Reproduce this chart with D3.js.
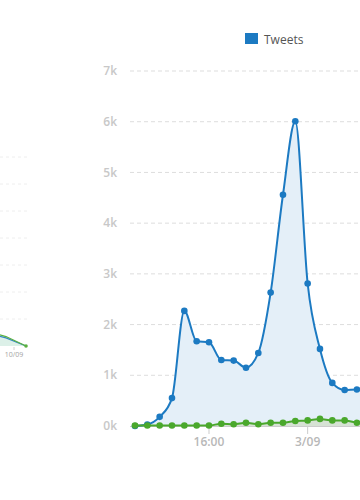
<!DOCTYPE html>
<html>
<head>
<meta charset="utf-8">
<script src="https://cdn.jsdelivr.net/npm/d3@7"></script>
<style>
  html, body { margin: 0; padding: 0; background: #fff; }
  svg { display: block; font-family: "Open Sans", "DejaVu Sans", sans-serif; }
</style>
</head>
<body>
<div id="chart"></div>
<script>
// ---- data ----
const categories = [
  "2/09 10:00","2/09 11:00","2/09 12:00","2/09 13:00","2/09 14:00","2/09 15:00",
  "2/09 16:00","2/09 17:00","2/09 18:00","2/09 19:00","2/09 20:00","2/09 21:00",
  "2/09 22:00","2/09 23:00","3/09 00:00","3/09 01:00","3/09 02:00","3/09 03:00",
  "3/09 04:00","3/09 05:00"
];
const tweets = [0, 30, 180, 550, 2270, 1670, 1650, 1300, 1290, 1150, 1440, 2630, 4560, 6010, 2810, 1520, 850, 710, 720, 720];
const retweets = [10, 10, 10, 10, 10, 10, 10, 45, 35, 65, 35, 65, 65, 100, 110, 140, 110, 110, 65, 60];
const yTicks = [0, 1000, 2000, 3000, 4000, 5000, 6000, 7000];
const yTickLabels = ["0k", "1k", "2k", "3k", "4k", "5k", "6k", "7k"];
const xTickCats = ["2/09 16:00", "3/09 00:00"];
const xTickLabels = ["16:00", "3/09"];
const legendLabels = ["Tweets"];

// faint background (ghost) chart on the left edge
const ghostCats = ["a", "b", "c"];
const ghostBlue = [0.48, 0.3, 0.0];
const ghostGreen = [0.55, 0.35, 0.0];
const ghostTicks = [0, 1, 2, 3, 4, 5, 6, 7];
const ghostXTick = "10/09";

const W = 360, H = 500;
const blue = "#1c7ac2", green = "#4aa82c";

const svg = d3.select("#chart").append("svg").attr("width", W).attr("height", H);
svg.append("rect").attr("width", W).attr("height", H).attr("fill", "#fff");

// ---- ghost chart ----
const gx = d3.scalePoint().domain(ghostCats).range([-14, 26]);
const gy = d3.scaleLinear().domain([0, 7]).range([346, 157]);
const ghost = svg.append("g").attr("opacity", 0.9);
ghost.selectAll("line.gg").data(ghostTicks.slice(1)).join("line")
  .attr("x1", 0).attr("x2", 27).attr("y1", d => gy(d)).attr("y2", d => gy(d))
  .attr("stroke", "#eee").attr("stroke-dasharray", "3,3");
ghost.append("path").datum(ghostGreen)
  .attr("d", d3.area().x((d, i) => gx(ghostCats[i])).y0(gy(0)).y1(d => gy(d)))
  .attr("fill", "#d9efe6");
ghost.append("path").datum(ghostBlue)
  .attr("d", d3.line().x((d, i) => gx(ghostCats[i])).y(d => gy(d)))
  .attr("fill", "none").attr("stroke", blue).attr("stroke-width", 1.2);
ghost.append("path").datum(ghostGreen)
  .attr("d", d3.line().x((d, i) => gx(ghostCats[i])).y(d => gy(d)))
  .attr("fill", "none").attr("stroke", green).attr("stroke-width", 1.2);
ghost.append("circle").attr("cx", gx("c")).attr("cy", gy(0)).attr("r", 1.8).attr("fill", green);
ghost.append("line").attr("x1", 14).attr("x2", 14).attr("y1", 347).attr("y2", 350).attr("stroke", "#ccc");
ghost.append("text").attr("x", 14).attr("y", 357).attr("text-anchor", "middle")
  .attr("font-size", 7).attr("fill", "#999").text(ghostXTick);

// ---- main chart ----
const x = d3.scalePoint().domain(categories).range([135, 369.3]);
const y = d3.scaleLinear().domain([0, 7000]).range([426, 71]);

// grid
svg.append("g").selectAll("line").data(yTicks.slice(1)).join("line")
  .attr("x1", 130).attr("x2", W).attr("y1", d => y(d)).attr("y2", d => y(d))
  .attr("stroke", "#ddd").attr("stroke-dasharray", "4,3");

// y labels
svg.append("g").selectAll("text").data(yTicks).join("text")
  .attr("x", 117).attr("y", d => y(d)).attr("dy", "0.35em").attr("text-anchor", "end")
  .attr("font-size", 12).attr("font-weight", 600).attr("fill", "#c8c8c8")
  .text((d, i) => yTickLabels[i]);

const curve = d3.curveMonotoneX;
const xi = (d, i) => x(categories[i]);

// areas
svg.append("path").datum(tweets)
  .attr("d", d3.area().x(xi).y0(y(0)).y1(d => y(d)).curve(curve))
  .attr("fill", "#e4eff8");
svg.append("path").datum(retweets)
  .attr("d", d3.area().x(xi).y0(y(0)).y1(d => y(d)).curve(curve))
  .attr("fill", "#d6e2d4");

// x axis
svg.append("line").attr("x1", 130).attr("x2", W).attr("y1", 426.5).attr("y2", 426.5)
  .attr("stroke", "#ccc").attr("stroke-width", 1);
svg.append("g").selectAll("line").data(xTickCats).join("line")
  .attr("x1", d => x(d)).attr("x2", d => x(d)).attr("y1", 427).attr("y2", 434)
  .attr("stroke", "#ccc");
svg.append("g").selectAll("text").data(xTickCats).join("text")
  .attr("x", d => x(d)).attr("y", 446).attr("text-anchor", "middle")
  .attr("font-size", 12).attr("font-weight", 600).attr("fill", "#b8b8b8")
  .text((d, i) => xTickLabels[i]);

// lines
svg.append("path").datum(tweets)
  .attr("d", d3.line().x(xi).y(d => y(d)).curve(curve))
  .attr("fill", "none").attr("stroke", blue).attr("stroke-width", 2);
svg.append("g").selectAll("circle").data(tweets).join("circle")
  .attr("cx", xi).attr("cy", d => y(d)).attr("r", 3.3).attr("fill", blue);

svg.append("path").datum(retweets)
  .attr("d", d3.line().x(xi).y(d => y(d)).curve(curve))
  .attr("fill", "none").attr("stroke", green).attr("stroke-width", 2);
svg.append("g").selectAll("circle").data(retweets).join("circle")
  .attr("cx", xi).attr("cy", d => y(d)).attr("r", 3.3).attr("fill", green);

// legend
const leg = svg.append("g");
leg.append("rect").attr("x", 245).attr("y", 33).attr("width", 13).attr("height", 11).attr("fill", blue);
leg.append("text").attr("x", 264).attr("y", 43.5).attr("font-size", 12).attr("font-weight", 500)
  .attr("fill", "#555").text(legendLabels[0]);
</script>
</body>
</html>
